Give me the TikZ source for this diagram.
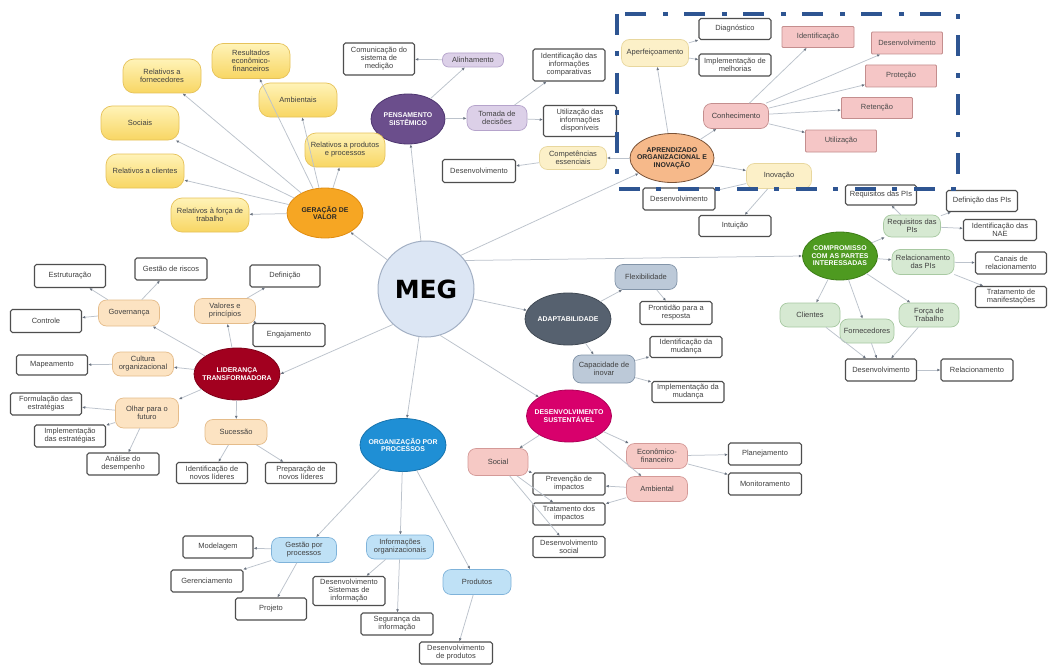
\documentclass[tikz,border=0pt]{standalone}
\usepackage{fontspec}
\setmainfont{Liberation Sans}
\newfontfamily\megfont{DejaVu Sans}
\usetikzlibrary{shapes.geometric,arrows.meta}

% palette
\definecolor{linegray}{HTML}{BCC3CC}
\definecolor{tipgray}{HTML}{6A7380}
\definecolor{boxgray}{HTML}{4E4E4E}
\definecolor{megfill}{HTML}{DCE6F4}
\definecolor{megdraw}{HTML}{A3B0C4}
\definecolor{gvfill}{HTML}{F6A623}
\definecolor{gvdraw}{HTML}{E08C10}
\definecolor{ytop}{HTML}{FFF3B8}
\definecolor{ybot}{HTML}{F8D663}
\definecolor{ydraw}{HTML}{E6C25A}
\definecolor{psfill}{HTML}{6B4E8C}
\definecolor{psdraw}{HTML}{4E3670}
\definecolor{lpurple}{HTML}{DCD0E8}
\definecolor{lpurpled}{HTML}{B5A3CB}
\definecolor{aofill}{HTML}{F6B98A}
\definecolor{aodraw}{HTML}{7A5236}
\definecolor{lyellow}{HTML}{FCF0C8}
\definecolor{lyellowd}{HTML}{E8D79E}
\definecolor{pinkbox}{HTML}{F5C6C6}
\definecolor{pinkboxd}{HTML}{C48E8E}
\definecolor{cpfill}{HTML}{4E9A20}
\definecolor{cpdraw}{HTML}{3D7D17}
\definecolor{lgreen}{HTML}{D6E9D2}
\definecolor{lgreend}{HTML}{A8C9A2}
\definecolor{adfill}{HTML}{56616F}
\definecolor{addraw}{HTML}{414A55}
\definecolor{lslate}{HTML}{BCC9D8}
\definecolor{lslated}{HTML}{8294A8}
\definecolor{dsfill}{HTML}{D8006C}
\definecolor{dsdraw}{HTML}{B00058}
\definecolor{lpink}{HTML}{F6C9C5}
\definecolor{lpinkd}{HTML}{D49A98}
\definecolor{opfill}{HTML}{1F8FD5}
\definecolor{opdraw}{HTML}{1773AD}
\definecolor{lblue}{HTML}{BFE1F6}
\definecolor{lblued}{HTML}{7FB3DA}
\definecolor{ltfill}{HTML}{A2001F}
\definecolor{ltdraw}{HTML}{7E0018}
\definecolor{lorange}{HTML}{FCE3C2}
\definecolor{loranged}{HTML}{E5BC8A}
\definecolor{frameblue}{HTML}{2E5592}

\tikzset{
  every node/.style={font=\fontsize{7.5}{8}\selectfont, align=center, inner sep=1pt},
  wh/.style 2 args={minimum width=#1pt, minimum height=#2pt},
  conn/.style={draw=linegray, line width=0.75pt,
    -{Latex[length=3.2pt,width=2.8pt,color=tipgray]}},
  box/.style={rectangle, draw=boxgray, line width=1.1pt, fill=white,
    rounded corners=1.8pt, wh={71}{22}, text=black!75},
  pinkrect/.style={rectangle, draw=pinkboxd, line width=0.8pt, fill=pinkbox,
    rounded corners=1pt, wh={71}{22}, text=black!70},
  pill/.style={rectangle, rounded corners=8pt, line width=0.7pt, wh={61}{25}, text=black!75},
  ynode/.style={pill, rounded corners=11pt, top color=ytop, bottom color=ybot, draw=ydraw, wh={78}{34}},
  purp/.style={pill, fill=lpurple, draw=lpurpled},
  lyel/.style={pill, fill=lyellow, draw=lyellowd},
  pinkpill/.style={pill, fill=lpink, draw=lpinkd},
  grn/.style={pill, fill=lgreen, draw=lgreend},
  slate/.style={pill, fill=lslate, draw=lslated},
  blu/.style={pill, fill=lblue, draw=lblued},
  orng/.style={pill, fill=lorange, draw=loranged},
  topic/.style={ellipse, line width=0.8pt, wh={85}{52}, inner xsep=-12pt, inner ysep=-5pt,
    font=\fontsize{6.9}{7.6}\selectfont\bfseries, text=white},
  meg/.style={circle, fill=megfill, draw=megdraw, line width=1pt,
    minimum size=96pt, font=\megfont\bfseries\fontsize{25}{25}\selectfont}
}

\begin{document}
\begin{tikzpicture}[x=1pt,y=-1pt]
\fill[white] (0,0) rectangle (1048,666);
\useasboundingbox (0,0) rectangle (1048,666);

% centre
\node[meg] (meg) at (426,289) {MEG};

% the eight criteria
\node[topic, fill=gvfill, draw=gvdraw, text=black!85, wh={76}{50}] (gv) at (325,213) {GERAÇÃO DE\\VALOR};
\node[topic, fill=psfill, draw=psdraw, wh={74}{50}] (ps) at (408,119) {PENSAMENTO\\SISTÊMICO};
\node[topic, fill=aofill, draw=aodraw, text=black!85, wh={84}{49}] (ao) at (672,158) {APRENDIZADO\\ORGANIZACIONAL E\\INOVAÇÃO};
\node[topic, fill=cpfill, draw=cpdraw, wh={75}{48}] (cp) at (840,256) {COMPROMISSO\\COM AS PARTES\\INTERESSADAS};
\node[topic, fill=adfill, draw=addraw, wh={86}{52}] (ad) at (568,319) {ADAPTABILIDADE};
\node[topic, fill=dsfill, draw=dsdraw, wh={85}{52}] (ds) at (569,416) {DESENVOLVIMENTO\\SUSTENTÁVEL};
\node[topic, fill=opfill, draw=opdraw, wh={86}{53}] (op) at (403,445) {ORGANIZAÇÃO POR\\PROCESSOS};
\node[topic, fill=ltfill, draw=ltdraw, wh={86}{52}] (lt) at (237,374) {LIDERANÇA\\TRANSFORMADORA};

% Geração de valor
\node[ynode] (y1) at (162,76) {Relativos a\\fornecedores};
\node[ynode, wh={78}{35}] (y2) at (251,61) {Resultados\\econômico-\\financeiros};
\node[ynode] (y3) at (298,100) {Ambientais};
\node[ynode] (y4) at (140,123) {Sociais};
\node[ynode] (y5) at (145,171) {Relativos a clientes};
\node[ynode, wh={80}{34}] (y6) at (345,150) {Relativos a produtos\\e processos};
\node[ynode] (y7) at (210,215) {Relativos à força de\\trabalho};

% Pensamento sistêmico
\node[purp, wh={61}{14}, rounded corners=6pt] (alin) at (473,60) {Alinhamento};
\node[purp, wh={60}{25}] (tom) at (497,118) {Tomada de\\decisões};
\node[box, wh={71}{32}] (com) at (379,59) {Comunicação do\\sistema de\\medição};
\node[box, wh={72}{32}] (idc) at (569,65) {Identificação das\\informações\\comparativas};
\node[box, wh={73}{31}] (uti) at (580,121) {Utilização das\\informações\\disponíveis};

% Aprendizado organizacional e inovação
\node[lyel, wh={67}{23}] (comp) at (573,158) {Competências\\essenciais};
\node[box, wh={73}{23}] (dev1) at (479,171) {Desenvolvimento};
\node[lyel, wh={67}{27}] (aper) at (655,53) {Aperfeiçoamento};
\node[box, wh={72}{21}] (diag) at (735,29) {Diagnóstico};
\node[box, wh={72}{22}] (impm) at (735,65) {Implementação de\\melhorias};
\node[pill, fill=pinkbox, draw=pinkboxd, wh={65}{25}] (con) at (736,116) {Conhecimento};
\node[pinkrect, wh={72}{21}] (pk1) at (818,37) {Identificação};
\node[pinkrect] (pk2) at (907,43) {Desenvolvimento};
\node[pinkrect] (pk3) at (901,76) {Proteção};
\node[pinkrect, wh={71}{21}] (pk4) at (877,108) {Retenção};
\node[pinkrect] (pk5) at (841,141) {Utilização};
\node[lyel, wh={65}{25}] (ino) at (779,176) {Inovação};
\node[box, wh={72}{22}] (dev2) at (679,199) {Desenvolvimento};
\node[box, wh={72}{21}] (intu) at (735,226) {Intuição};

% Compromisso com as partes interessadas
\node[box, wh={71}{20}] (reqb) at (881,195) {Requisitos das PIs};
\node[grn, wh={57}{22}] (reqg) at (912,226) {Requisitos das\\PIs};
\node[box, wh={71}{21}] (defp) at (982,201) {Definição das PIs};
\node[box, wh={73}{21}] (nae) at (1000,230) {Identificação das\\NAE};
\node[grn, wh={62}{25}] (relp) at (923,262) {Relacionamento\\das PIs};
\node[box, wh={71}{22}] (can) at (1011,263) {Canais de\\relacionamento};
\node[box, wh={71}{21}] (trat) at (1011,297) {Tratamento de\\manifestações};
\node[grn, wh={60}{24}] (cli) at (810,315) {Clientes};
\node[grn, wh={54}{24}] (forn) at (867,331) {Fornecedores};
\node[grn, wh={60}{24}] (forc) at (929,315) {Força de\\Trabalho};
\node[box, wh={71}{22}] (dev3) at (881,370) {Desenvolvimento};
\node[box, wh={72}{22}] (rel) at (977,370) {Relacionamento};

% Adaptabilidade
\node[slate, wh={62}{25}] (flex) at (646,277) {Flexibilidade};
\node[box, wh={72}{23}] (pront) at (676,313) {Prontidão para a\\resposta};
\node[slate, wh={62}{28}] (cap) at (604,369) {Capacidade de\\inovar};
\node[box, wh={72}{21}] (idm) at (686,347) {Identificação da\\mudança};
\node[box, wh={72}{21}] (imm) at (688,392) {Implementação da\\mudança};

% Desenvolvimento sustentável
\node[pinkpill, wh={60}{27}] (soc) at (498,462) {Social};
\node[pinkpill, wh={61}{25}] (eco) at (657,456) {Econômico-\\financeiro};
\node[pinkpill, wh={61}{25}] (amb) at (657,489) {Ambiental};
\node[box, wh={72}{22}] (prev) at (569,484) {Prevenção de\\impactos};
\node[box, wh={72}{22}] (tra) at (569,514) {Tratamento dos\\impactos};
\node[box, wh={72}{21}] (dsoc) at (569,547) {Desenvolvimento\\social};
\node[box, wh={73}{22}] (plan) at (765,454) {Planejamento};
\node[box, wh={73}{22}] (mon) at (765,484) {Monitoramento};

% Organização por processos
\node[blu, wh={65}{25}] (gpp) at (304,550) {Gestão por\\processos};
\node[blu, wh={67}{24}] (info) at (400,547) {Informações\\organizacionais};
\node[blu, wh={68}{25}] (prod) at (477,582) {Produtos};
\node[box, wh={70}{22}] (mod) at (218,547) {Modelagem};
\node[box, wh={72}{22}] (ger) at (207,581) {Gerenciamento};
\node[box, wh={71}{22}] (proj) at (271,609) {Projeto};
\node[box, wh={72}{29}] (dsi) at (349,591) {Desenvolvimento\\Sistemas de\\informação};
\node[box, wh={72}{22}] (seg) at (397,624) {Segurança da\\informação};
\node[box, wh={73}{22}] (dprod) at (456,653) {Desenvolvimento\\de produtos};

% Liderança transformadora
\node[orng, wh={61}{26}] (gov) at (129,313) {Governança};
\node[box, wh={71}{23}] (est) at (70,276) {Estruturação};
\node[box, wh={72}{22}] (gri) at (171,269) {Gestão de riscos};
\node[box, wh={71}{23}] (ctl) at (46,321) {Controle};
\node[orng, wh={61}{25}] (val) at (225,311) {Valores e\\princípios};
\node[box, wh={70}{22}] (def) at (285,276) {Definição};
\node[box, wh={72}{23}] (eng) at (289,335) {Engajamento};
\node[orng, wh={61}{24}] (cult) at (143,364) {Cultura\\organizacional};
\node[box, wh={71}{20}] (map) at (52,365) {Mapeamento};
\node[orng, wh={63}{30}] (olh) at (147,413) {Olhar para o\\futuro};
\node[box, wh={71}{22}] (form) at (46,404) {Formulação das\\estratégias};
\node[box, wh={71}{22}] (impe) at (70,436) {Implementação\\das estratégias};
\node[box, wh={72}{22}] (anal) at (123,464) {Análise do\\desempenho};
\node[orng, wh={62}{25}] (suc) at (236,432) {Sucessão};
\node[box, wh={71}{21}] (idl) at (212,473) {Identificação de\\novos líderes};
\node[box, wh={71}{21}] (prep) at (301,473) {Preparação de\\novos líderes};

% connectors from the centre
\draw[conn] (meg) -- (gv);
\draw[conn] (meg) -- (ps);
\draw[conn] (meg.44) -- (ao);
\draw[conn] (meg.36) -- (cp.west);
\draw[conn] (meg) -- (ad);
\draw[conn] (meg.-73) -- (ds);
\draw[conn] (meg) -- (op);
\draw[conn] (meg.227) -- (lt.east);

% Geração de valor
\foreach \t in {y1,y2,y3,y4,y5,y6,y7} \draw[conn] (gv) -- (\t);

% Pensamento sistêmico
\draw[conn] (ps) -- (alin);
\draw[conn] (ps) -- (tom);
\draw[conn] (alin) -- (com);
\draw[conn] (tom) -- (idc);
\draw[conn] (tom) -- (uti);

% Aprendizado organizacional e inovação
\draw[conn] (ao) -- (comp);
\draw[conn] (comp) -- (dev1);
\draw[conn] (ao) -- (aper);
\draw[conn] (aper) -- (diag);
\draw[conn] (aper) -- (impm);
\draw[conn] (ao) -- (con);
\foreach \t in {pk1,pk2,pk3,pk4,pk5} \draw[conn] (con) -- (\t);
\draw[conn] (ao) -- (ino);
\draw[conn] (ino) -- (dev2);
\draw[conn] (ino) -- (intu);

% Compromisso com as partes interessadas
\draw[conn] (cp) -- (reqg);
\draw[conn] (reqg) -- (reqb);
\draw[conn] (reqg) -- (defp);
\draw[conn] (reqg) -- (nae);
\draw[conn] (cp) -- (relp);
\draw[conn] (relp) -- (can);
\draw[conn] (relp) -- (trat);
\draw[conn] (cp) -- (cli);
\draw[conn] (cp) -- (forn);
\draw[conn] (cp) -- (forc);
\draw[conn] (cli) -- (dev3);
\draw[conn] (forn) -- (dev3);
\draw[conn] (forc) -- (dev3);
\draw[conn] (dev3) -- (rel);

% Adaptabilidade
\draw[conn] (ad) -- (flex);
\draw[conn] (flex) -- (pront);
\draw[conn] (ad) -- (cap);
\draw[conn] (cap) -- (idm);
\draw[conn] (cap) -- (imm);

% Desenvolvimento sustentável
\draw[conn] (ds) -- (soc);
\draw[conn] (ds) -- (eco);
\draw[conn] (ds) -- (amb);
\draw[conn] (soc) -- (prev);
\draw[conn] (soc) -- (tra);
\draw[conn] (soc) -- (dsoc);
\draw[conn] (amb) -- (prev);
\draw[conn] (amb) -- (tra);
\draw[conn] (eco) -- (plan);
\draw[conn] (eco) -- (mon);

% Organização por processos
\draw[conn] (op) -- (gpp);
\draw[conn] (op) -- (info);
\draw[conn] (op) -- (prod);
\draw[conn] (gpp) -- (mod);
\draw[conn] (gpp) -- (ger);
\draw[conn] (gpp) -- (proj);
\draw[conn] (info) -- (dsi);
\draw[conn] (info) -- (seg);
\draw[conn] (prod) -- (dprod);

% Liderança transformadora
\draw[conn] (lt) -- (gov);
\draw[conn] (lt) -- (val);
\draw[conn] (lt) -- (cult);
\draw[conn] (lt) -- (olh);
\draw[conn] (lt) -- (suc);
\draw[conn] (gov) -- (est);
\draw[conn] (gov) -- (gri);
\draw[conn] (gov) -- (ctl);
\draw[conn] (val) -- (def);
\draw[conn] (val) -- (eng);
\draw[conn] (cult) -- (map);
\draw[conn] (olh) -- (form);
\draw[conn] (olh) -- (impe);
\draw[conn] (olh) -- (anal);
\draw[conn] (suc) -- (idl);
\draw[conn] (suc) -- (prep);

% highlight frame
\draw[frameblue, line width=4.3pt, dash pattern=on 21pt off 16pt on 5pt off 17pt]
  (617,14) rectangle (958,189);
\end{tikzpicture}
\end{document}
